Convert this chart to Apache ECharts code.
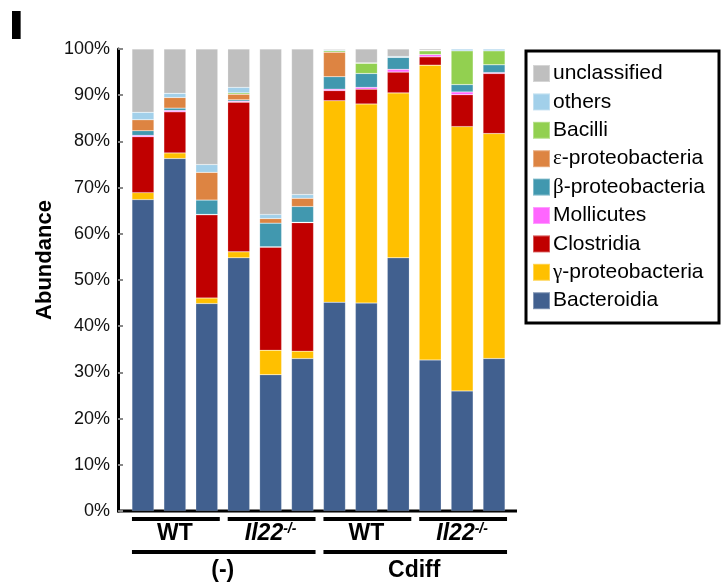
<!DOCTYPE html>
<html>
<head>
<meta charset="utf-8">
<script src="https://cdn.jsdelivr.net/npm/echarts@6/dist/echarts.min.js"></script>
<style>
html,body{margin:0;padding:0;background:#fff}
#chart{width:721px;height:583px}
</style>
</head>
<body>
<div id="chart"></div>
<script>
// samples, left to right
var samples=['s1','s2','s3','s4','s5','s6','s7','s8','s9','s10','s11','s12']

// abundance (%) per class, one value per sample
var bacteroidia=[67.4,76.3,44.9,54.8,29.5,33.0,45.2,45.0,54.8,32.7,26.0,33.0]
var gammaProteo=[1.5,1.2,1.2,1.3,5.3,1.6,43.6,43.1,35.7,63.8,57.2,48.7]
var clostridia=[12.1,8.9,18.0,32.4,22.3,27.8,2.2,3.2,4.5,1.8,6.9,13.0]
var mollicutes=[0.3,0.3,0.1,0.2,0.1,0.1,0.3,0.4,0.6,0.5,0.6,0.2]
var betaProteo=[1.0,0.5,3.1,0.3,5.1,3.4,2.7,3.0,2.6,0,1.6,1.7]
var epsilonProteo=[2.4,2.3,6.0,1.2,1.0,1.8,5.3,0,0,0,0,0]
var bacilli=[0,0,0,0.3,0,0,0.3,2.2,0,0.8,7.3,3.0]
var others=[1.6,0.9,1.7,1.2,0.9,0.8,0.2,0.1,0.2,0.1,0.4,0.4]
var unclassified=[13.7,9.6,25.0,8.3,35.8,31.5,0.2,3.0,1.6,0.3,0,0]

var yTicks=[0,10,20,30,40,50,60,70,80,90,100]

// group labels under the bars
var genotypes=[
  {name:'WT',ko:false,from:0,to:2},
  {name:'Il22',ko:true,from:3,to:5},
  {name:'WT',ko:false,from:6,to:8},
  {name:'Il22',ko:true,from:9,to:11}
]
var treatments=[
  {name:'(-)',from:0,to:5},
  {name:'Cdiff',from:6,to:11}
]

var FONT='"Liberation Sans", Arial, sans-serif'

var classes=[
  {key:'Bacteroidia',data:bacteroidia,color:'#41608F'},
  {key:'gamma',data:gammaProteo,color:'#FFC000'},
  {key:'Clostridia',data:clostridia,color:'#C00000'},
  {key:'Mollicutes',data:mollicutes,color:'#FF66FF'},
  {key:'beta',data:betaProteo,color:'#4198AF'},
  {key:'epsilon',data:epsilonProteo,color:'#DD8442'},
  {key:'Bacilli',data:bacilli,color:'#92D050'},
  {key:'others',data:others,color:'#A2D0EA'},
  {key:'unclassified',data:unclassified,color:'#BFBFBF'}
]
var greek={gamma:'γ',beta:'β',epsilon:'ε'}

var chart=echarts.init(document.getElementById('chart'),null,{renderer:'canvas'})

var series=classes.map(function(c){
  return {
    name:c.key,
    type:'bar',
    stack:'total',
    barWidth:22,
    data:c.data,
    itemStyle:{color:c.color,borderColor:'rgba(255,255,255,0.35)',borderWidth:0.5},
    emphasis:{disabled:true}
  }
})

var option={
  animation:false,
  backgroundColor:'#fff',
  grid:{left:127,right:211,top:49,bottom:72},
  legend:{
    orient:'vertical',
    left:532,
    top:63,
    padding:0,
    itemWidth:17,
    itemHeight:17,
    itemGap:7.4,
    icon:'rect',
    data:classes.map(function(c){return c.key}).reverse(),
    formatter:function(n){
      if(greek[n]) return '{g|'+greek[n]+'}-proteobacteria'
      return n
    },
    textStyle:{
      fontFamily:FONT,fontSize:21,color:'#000',padding:[0,0,0,-2],
      rich:{g:{fontFamily:'"Liberation Serif", "DejaVu Serif", serif',fontSize:21,color:'#000'}}
    }
  },
  xAxis:{
    type:'category',
    data:samples,
    axisLine:{show:false},
    axisTick:{show:false},
    axisLabel:{show:false}
  },
  yAxis:{
    type:'value',
    min:0,
    max:100,
    interval:10,
    offset:9,
    axisLine:{show:true,lineStyle:{color:'#000',width:3}},
    axisTick:{show:true,inside:true,length:5,lineStyle:{color:'#888',width:2}},
    splitLine:{show:false},
    axisLabel:{
      fontFamily:FONT,fontSize:18,color:'#111',margin:8,
      formatter:function(v){return yTicks.indexOf(v)>=0?v+'%':''}
    }
  },
  series:series
}
chart.setOption(option)

// annotation graphics placed from the axis scale
var half=11
var g=[]
g.push({type:'text',x:8,y:8,scaleX:1.5,style:{text:'I',font:'bold 40px '+FONT,fill:'#000'}})
g.push({type:'text',x:45,y:260,rotation:Math.PI/2,style:{
  text:'Abundance',align:'center',verticalAlign:'middle',font:'bold 22px '+FONT,fill:'#000'
}})
g.push({type:'rect',shape:{x:526,y:51,width:193,height:272},style:{fill:'none',stroke:'#000',lineWidth:3}})
var y0=chart.convertToPixel({yAxisIndex:0},0)
g.push({type:'line',shape:{x1:117,y1:y0,x2:517,y2:y0},style:{stroke:'#000',lineWidth:3}})

genotypes.forEach(function(gr){
  var x1=chart.convertToPixel({xAxisIndex:0},gr.from)-half
  var x2=chart.convertToPixel({xAxisIndex:0},gr.to)+half
  g.push({type:'line',shape:{x1:x1,y1:519,x2:x2+2,y2:519},style:{stroke:'#000',lineWidth:4}})
  var txt=gr.ko?'{a|'+gr.name+'}{s|-/-}':'{b|'+gr.name+'}'
  g.push({type:'text',x:(x1+x2)/2,y:534,style:{
    text:txt,align:'center',verticalAlign:'middle',
    rich:{
      a:{font:'italic bold 23px '+FONT,fill:'#000'},
      b:{font:'bold 23px '+FONT,fill:'#000'},
      s:{font:'italic bold 14px '+FONT,fill:'#000',verticalAlign:'top',padding:[0,0,10,0]}
    }
  }})
})
treatments.forEach(function(t){
  var x1=chart.convertToPixel({xAxisIndex:0},t.from)-half
  var x2=chart.convertToPixel({xAxisIndex:0},t.to)+half
  g.push({type:'line',shape:{x1:x1,y1:552,x2:x2+2,y2:552},style:{stroke:'#000',lineWidth:4}})
  g.push({type:'text',x:(x1+x2)/2,y:571,style:{
    text:t.name,align:'center',verticalAlign:'middle',font:'bold 23px '+FONT,fill:'#000'
  }})
})
chart.setOption({graphic:{elements:g}})
</script>
</body>
</html>
